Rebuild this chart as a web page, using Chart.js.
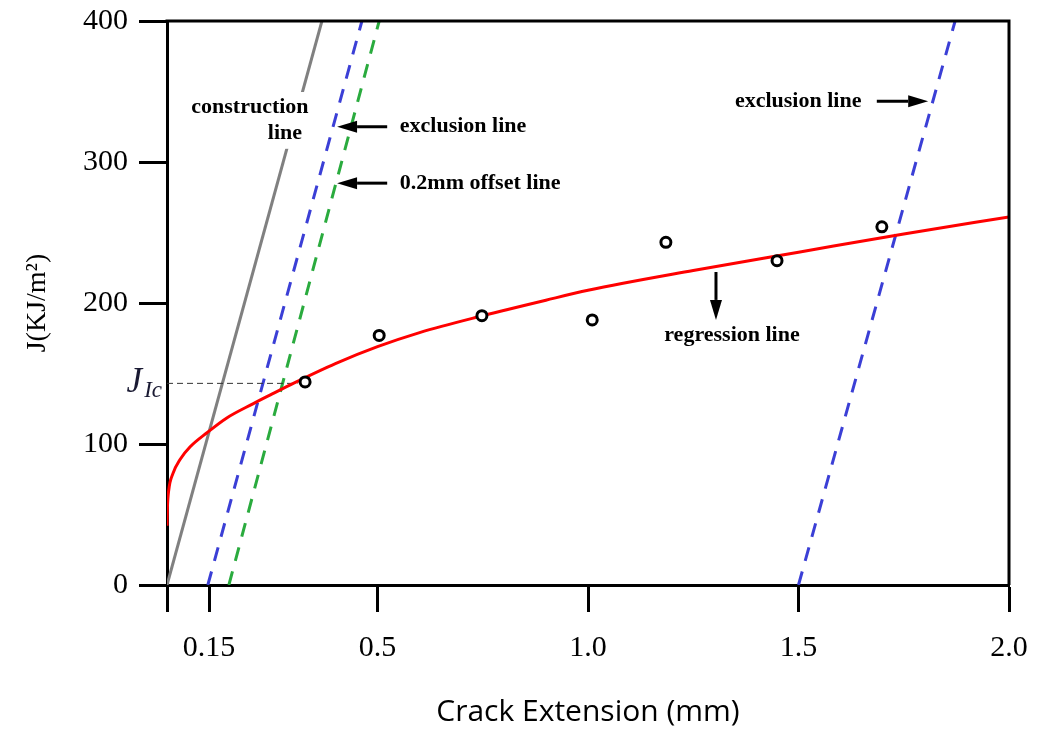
<!DOCTYPE html>
<html>
<head>
<meta charset="utf-8" />
<title>J-R curve</title>
<script src="https://cdn.jsdelivr.net/npm/chart.js@4.4.1/dist/chart.umd.min.js"></script>
<style>
  body { margin: 0; background: #fff; }
  canvas { display: block; }
</style>
</head>
<body>
<canvas id="jr" width="1040" height="734"></canvas>
<script>
// axis ticks (the second tick sits at 0.1 but is labelled 0.15 in the figure)
const xTickValues = [0, 0.1, 0.5, 1.0, 1.5, 2.0];
const xTickLabels = ['', '0.15', '0.5', '1.0', '1.5', '2.0'];
const yTickValues = [0, 100, 200, 300, 400];

// measured J values
const testX = [0.328, 0.504, 0.748, 1.01, 1.185, 1.449, 1.698];
const testJ = [144, 177, 191, 188, 243, 230, 254];

// regression line
const regX = [0, 0.001, 0.004, 0.014, 0.031, 0.055, 0.095, 0.142, 0.204, 0.25, 0.3, 0.4, 0.5, 0.6, 0.75, 0.9, 1.0, 1.25, 1.5, 1.75, 2.0];
const regJ = [42, 55, 67, 79, 89, 98, 108, 118.5, 128.5, 135.5, 143, 157, 169, 179, 191, 202, 209, 223, 236, 249, 261];

// straight lines: [start, end] in (mm, J)
const constructionX = [0, 0.368];
const constructionJ = [0, 400];
const exclusion1X = [0.097, 0.463];
const exclusion1J = [0, 400];
const offsetX = [0.147, 0.504];
const offsetJ = [0, 400];
const exclusion2X = [1.5, 1.872];
const exclusion2J = [0, 400];
const jicX = [0, 0.31];
const jicJ = [143, 143];

const pts = (xs, ys) => xs.map((v, i) => ({x: v, y: ys[i]}));

const serif = '"Liberation Serif", "Times New Roman", serif';

// top and right edges of the plot box
const frame = {
  id: 'frame',
  afterDraw(chart) {
    const {ctx, chartArea: a} = chart;
    ctx.save();
    ctx.strokeStyle = '#000';
    ctx.lineWidth = 3;
    ctx.beginPath();
    ctx.moveTo(a.left - 1.5, a.top);
    ctx.lineTo(a.right, a.top);
    ctx.lineTo(a.right, a.bottom);
    ctx.stroke();
    ctx.restore();
  }
};

function arrow(ctx, x1, y1, x2, y2) {
  const ang = Math.atan2(y2 - y1, x2 - x1);
  const len = 20, half = 6;
  const bx = x2 - Math.cos(ang) * len, by = y2 - Math.sin(ang) * len;
  ctx.beginPath();
  ctx.moveTo(x1, y1);
  ctx.lineTo(bx, by);
  ctx.lineWidth = 3;
  ctx.stroke();
  ctx.beginPath();
  ctx.moveTo(x2, y2);
  ctx.lineTo(bx - Math.sin(ang) * half, by + Math.cos(ang) * half);
  ctx.lineTo(bx + Math.sin(ang) * half, by - Math.cos(ang) * half);
  ctx.closePath();
  ctx.fill();
}

// labels and arrows
const notes = {
  id: 'notes',
  afterDatasetsDraw(chart) {
    const {ctx, chartArea: a} = chart;
    const sx = chart.scales.x, sy = chart.scales.y;
    const px = v => sx.getPixelForValue(v), py = v => sy.getPixelForValue(v);
    ctx.save();
    ctx.font = 'bold 22px ' + serif;
    ctx.textBaseline = 'middle';

    // construction line label, on white so the grey line breaks
    const c1 = 'construction', c2 = 'line';
    const w1 = ctx.measureText(c1).width, w2 = ctx.measureText(c2).width;
    const l1x = px(0.197), l1y = py(339), l2x = px(0.28), l2y = py(320);
    ctx.fillStyle = '#fff';
    ctx.fillRect(Math.min(l1x - w1 / 2, l2x - w2 / 2) - 3, l1y - 15,
      Math.max(l1x + w1 / 2, l2x + w2 / 2) - Math.min(l1x - w1 / 2, l2x - w2 / 2) + 6, l2y - l1y + 30);
    ctx.fillStyle = '#000';
    ctx.strokeStyle = '#000';
    ctx.textAlign = 'center';
    ctx.fillText(c1, l1x, l1y);
    ctx.fillText(c2, l2x, l2y);

    ctx.textAlign = 'left';
    arrow(ctx, px(0.523), py(325), px(0.404), py(325));
    ctx.fillText('exclusion line', px(0.553), py(325));
    arrow(ctx, px(0.523), py(285), px(0.404), py(285));
    ctx.fillText('0.2mm offset line', px(0.553), py(285));
    arrow(ctx, px(1.686), py(343), px(1.808), py(343));
    ctx.fillText('exclusion line', px(1.349), py(343));
    arrow(ctx, px(1.304), py(222), px(1.304), py(188));
    ctx.textAlign = 'center';
    ctx.fillText('regression line', px(1.342), py(177));

    // J_Ic label left of the axis
    const yy = py(jicJ[0]);
    ctx.fillStyle = '#1a1a33';
    ctx.textAlign = 'right';
    ctx.textBaseline = 'alphabetic';
    ctx.font = 'italic 23px ' + serif;
    const sub = 'Ic';
    const sw = ctx.measureText(sub).width;
    ctx.fillText(sub, a.left - 5, yy + 14);
    ctx.font = 'italic 35px ' + serif;
    ctx.fillText('J', a.left - 7 - sw, yy + 9);
    ctx.restore();
  }
};

const lineDs = (data, color, dash, width) => ({
  data, showLine: true, pointRadius: 0, borderColor: color,
  borderWidth: width, borderDash: dash, fill: false
});

new Chart(document.getElementById('jr'), {
  type: 'scatter',
  data: {
    datasets: [
      {
        data: pts(testX, testJ), pointStyle: 'circle', pointRadius: 5,
        pointBorderWidth: 3, pointBorderColor: '#000', pointBackgroundColor: '#fff'
      },
      Object.assign(lineDs(pts(regX, regJ), '#ff0000', [], 3), {cubicInterpolationMode: 'monotone'}),
      lineDs(pts(jicX, jicJ), '#333', [6, 4], 1),
      lineDs(pts(exclusion1X, exclusion1J), '#3b3fd6', [14, 11], 3),
      lineDs(pts(offsetX, offsetJ), '#2aab3e', [14, 11], 3),
      lineDs(pts(exclusion2X, exclusion2J), '#3b3fd6', [14, 11], 3),
      lineDs(pts(constructionX, constructionJ), '#808080', [], 3)
    ]
  },
  options: {
    responsive: false,
    animation: false,
    layout: {padding: {left: 0, right: 31, top: 21, bottom: 0}},
    plugins: {legend: {display: false}, tooltip: {enabled: false}},
    scales: {
      x: {
        type: 'linear', min: 0, max: 2,
        afterFit(s) { s.height = 149; s.paddingLeft = 0; s.paddingRight = 0; },
        afterBuildTicks(s) { s.ticks = xTickValues.map(v => ({value: v})); },
        ticks: {
          callback: (v, i) => xTickLabels[i],
          font: {family: serif, size: 30}, color: '#000',
          padding: 18, maxRotation: 0, autoSkip: false
        },
        grid: {drawOnChartArea: false, tickLength: 27, tickWidth: 3, tickColor: '#000'},
        border: {color: '#000', width: 3},
        title: {
          display: true, text: 'Crack Extension (mm)',
          font: {family: '"Open Sans", sans-serif', size: 30}, color: '#000',
          padding: {top: 0, bottom: 4}
        }
      },
      y: {
        type: 'linear', min: 0, max: 400,
        afterFit(s) { s.width = 167; s.paddingTop = 0; s.paddingBottom = 0; },
        afterBuildTicks(s) { s.ticks = yTickValues.map(v => ({value: v})); },
        ticks: {font: {family: serif, size: 30}, color: '#000', padding: 11},
        grid: {drawOnChartArea: false, tickLength: 28, tickWidth: 3, tickColor: '#000'},
        border: {color: '#000', width: 3},
        title: {
          display: true, text: 'J(KJ/m²)',
          font: {family: serif, size: 28}, color: '#000',
          padding: {top: 21, bottom: 0}
        }
      }
    }
  },
  plugins: [frame, notes]
});
</script>
</body>
</html>
